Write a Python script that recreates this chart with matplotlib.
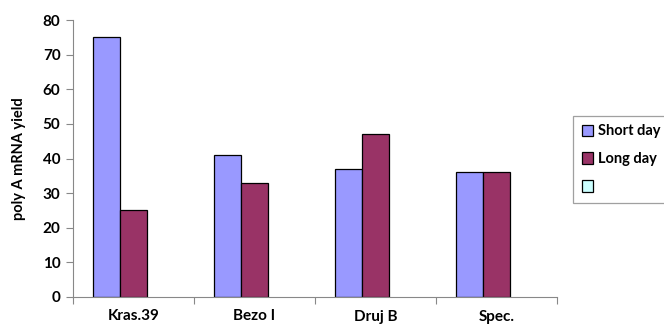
import numpy as np
import matplotlib.pyplot as plt
from matplotlib.patches import Patch

plt.rcParams['font.family'] = ['Lato', 'DejaVu Sans']
plt.rcParams['font.weight'] = 'bold'

cultivars = ['Kras.39', 'Bezo I', 'Druj B', 'Spec.']
short_day = [75, 41, 37, 36]
long_day = [25, 33, 47, 36]
third = [0, 0, 0, 0]

series = [('Short day', short_day, '#9999FF'),
          ('Long day', long_day, '#993366'),
          (' ', third, '#CCFFFF')]

fig = plt.figure(figsize=(6.64, 3.30), dpi=100)
ax = fig.add_axes([0.110, 0.100, 0.729, 0.839])

x = np.arange(len(cultivars))
w = 0.225
handles = []
for i, (name, vals, col) in enumerate(series):
    # empty series still takes its slot in each group
    lw = 0.9 if max(vals) > 0 else 0
    ax.bar(x + (i - 1) * w, vals, w, color=col, edgecolor='black',
           linewidth=lw)
    handles.append(Patch(facecolor=col, edgecolor='black', linewidth=0.9,
                         label=name))

ax.set_xlim(-0.5, len(cultivars) - 0.5)
ax.set_ylim(0, 80)
ax.set_yticks(np.arange(0, 81, 10))
ax.set_xticks(np.arange(-0.5, len(cultivars), 1.0))
ax.set_xticklabels([])
ax.set_xticks(x, minor=True)
ax.set_xticklabels(cultivars, minor=True)
ax.tick_params(axis='x', which='minor', length=0, pad=9, labelsize=11)
ax.tick_params(axis='x', which='major', direction='out', length=5,
               color='#888888')
ax.tick_params(axis='y', direction='out', length=5, color='#888888',
               labelsize=11, pad=4)
for s in ['top', 'right']:
    ax.spines[s].set_visible(False)
for s in ['left', 'bottom']:
    ax.spines[s].set_color('#888888')
ax.set_ylabel('poly A mRNA yield', fontsize=10.5, fontweight='bold',
              labelpad=12)

leg = fig.legend(handles=handles, loc='upper left',
                 bbox_to_anchor=(0.852, 0.672),
                 fontsize=10.5, frameon=True, fancybox=False,
                 handlelength=0.8, handleheight=0.8, handletextpad=0.3,
                 labelspacing=0.95, borderpad=0.6)
leg.get_frame().set_edgecolor('#888888')
leg.get_frame().set_linewidth(0.9)

fig.savefig('out.png', dpi=100)
